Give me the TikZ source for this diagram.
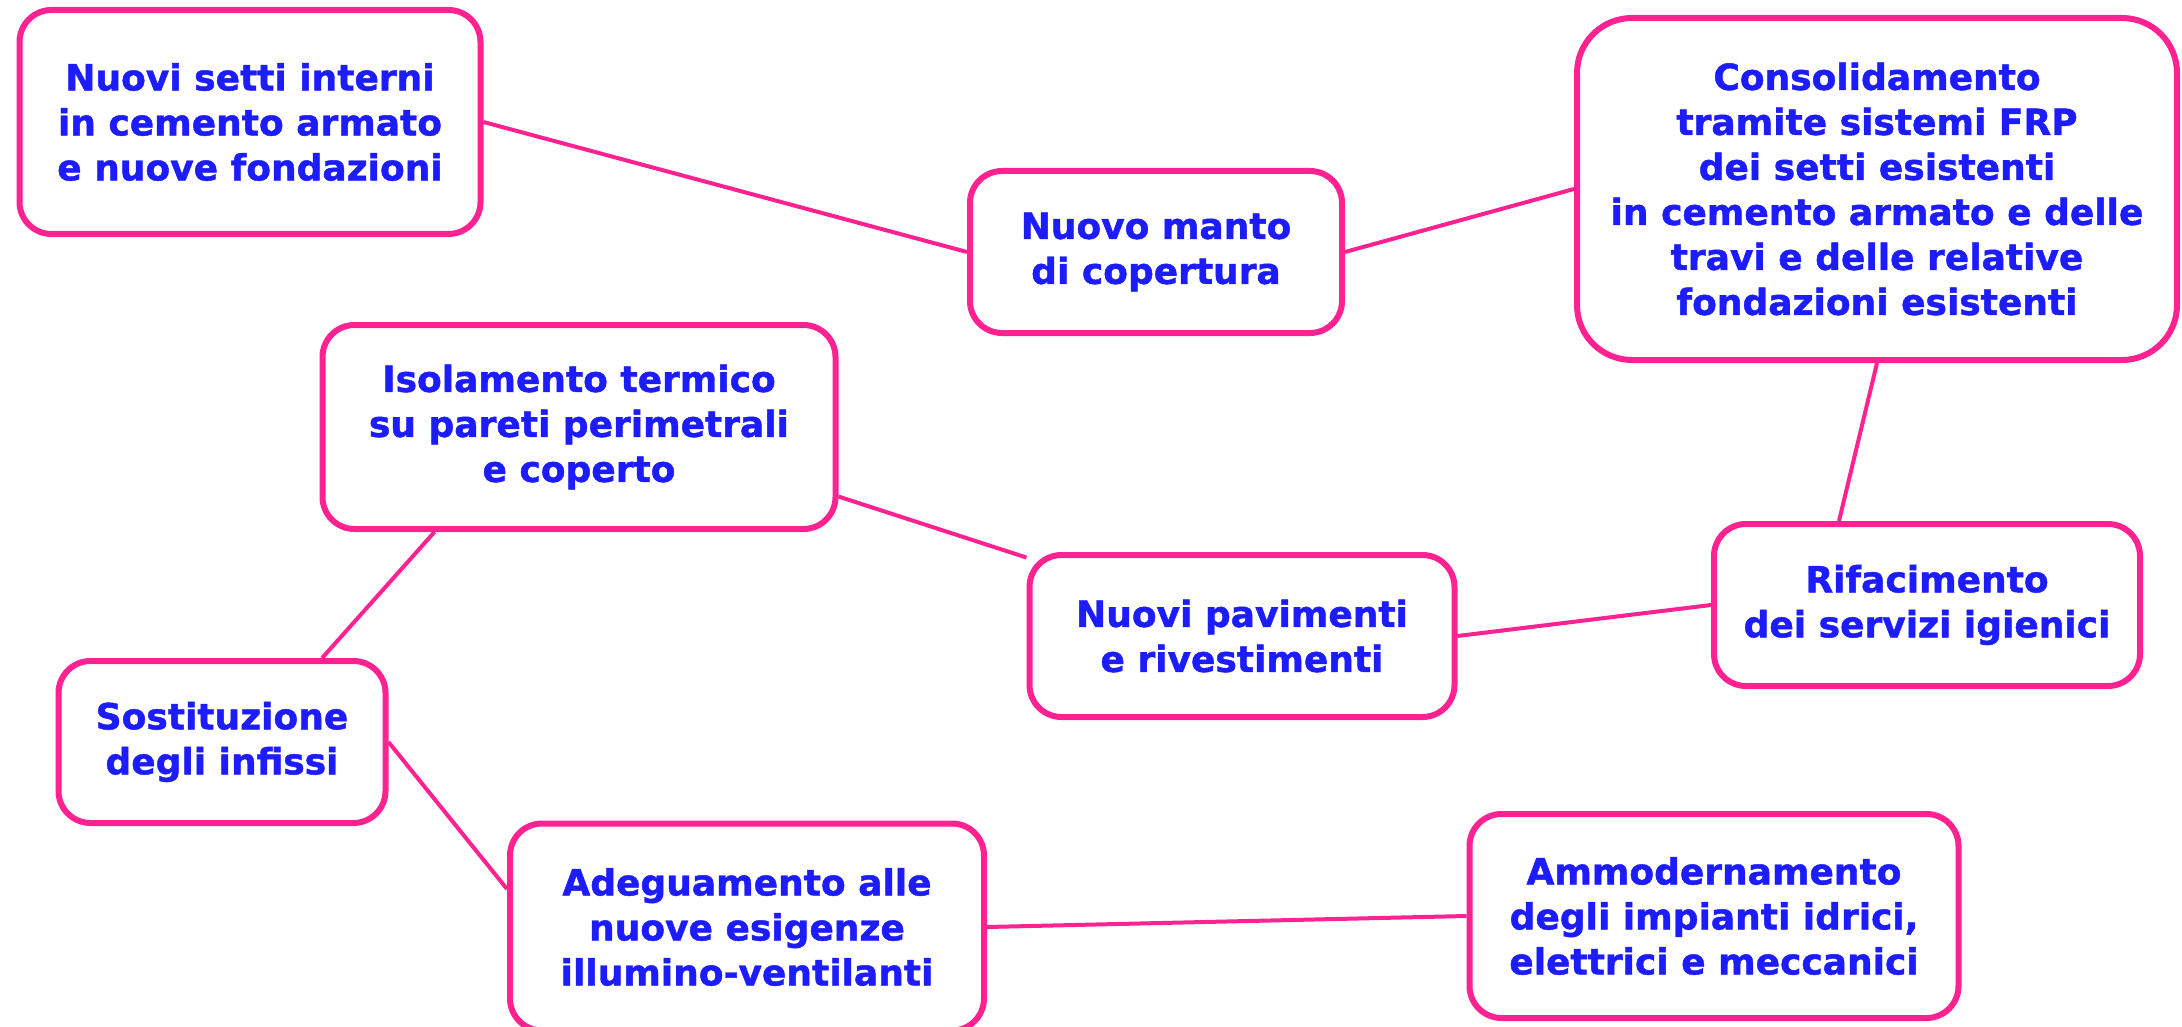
\documentclass[tikz,border=0pt]{standalone}
\usepackage{fontspec}
\setmainfont{DejaVu Sans}[BoldFeatures={FakeBold=1.2}]
\usepackage{tikz}
\definecolor{pinkline}{HTML}{FF2290}
\definecolor{bluetext}{HTML}{1C1CFF}

\begin{document}
\begin{tikzpicture}[x=1pt,y=-1pt,
  box/.style={draw=pinkline,line width=6pt,rounded corners=32pt,fill=white,align=center,
    text=bluetext,font=\fontsize{36}{45}\selectfont\bfseries,inner sep=0pt},
  link/.style={pinkline,line width=4pt}]
\useasboundingbox (0,0) rectangle (2182,1027);

\node[box,minimum width=461pt,minimum height=224pt] (setti) at (250,122) {Nuovi setti interni\\in cemento armato\\e nuove fondazioni};
\node[box,minimum width=372pt,minimum height=162pt] (manto) at (1156,252) {Nuovo manto\\di copertura};
\node[box,minimum width=600pt,minimum height=342pt,rounded corners=55pt] (consol) at (1877,189) {Consolidamento\\tramite sistemi FRP\\dei setti esistenti\\in cemento armato e delle\\travi e delle relative\\fondazioni esistenti};
\node[box,minimum width=513pt,minimum height=204pt] (isol) at (579,427) {Isolamento termico\\su pareti perimetrali\\e coperto};
\node[box,minimum width=425pt,minimum height=162pt] (pav) at (1242,636) {Nuovi pavimenti\\e rivestimenti};
\node[box,minimum width=426pt,minimum height=162pt] (rifac) at (1927,605) {Rifacimento\\dei servizi igienici};
\node[box,minimum width=327pt,minimum height=162pt] (sost) at (222,742) {Sostituzione\\degli infissi};
\node[box,minimum width=474pt,minimum height=207pt] (adeg) at (747,927) {Adeguamento alle\\nuove esigenze\\illumino-ventilanti};
\node[box,minimum width=489pt,minimum height=204pt] (ammod) at (1714,916) {Ammodernamento\\degli impianti idrici,\\elettrici e meccanici};

\draw[link] (setti.east) -- (manto.west);
\draw[link] (manto.east) -- (consol.west);
\draw[link] (consol.south) -- ([xshift=-88pt]rifac.north);
\draw[link] (rifac.west) -- (pav.east);
\draw[link] (pav.160) -- (isol.-15);
\draw[link] (isol.216) -- (sost.40);
\draw[link] (sost.east) -- (adeg.171);
\draw[link] (adeg.east) -- (ammod.west);
\end{tikzpicture}
\end{document}
